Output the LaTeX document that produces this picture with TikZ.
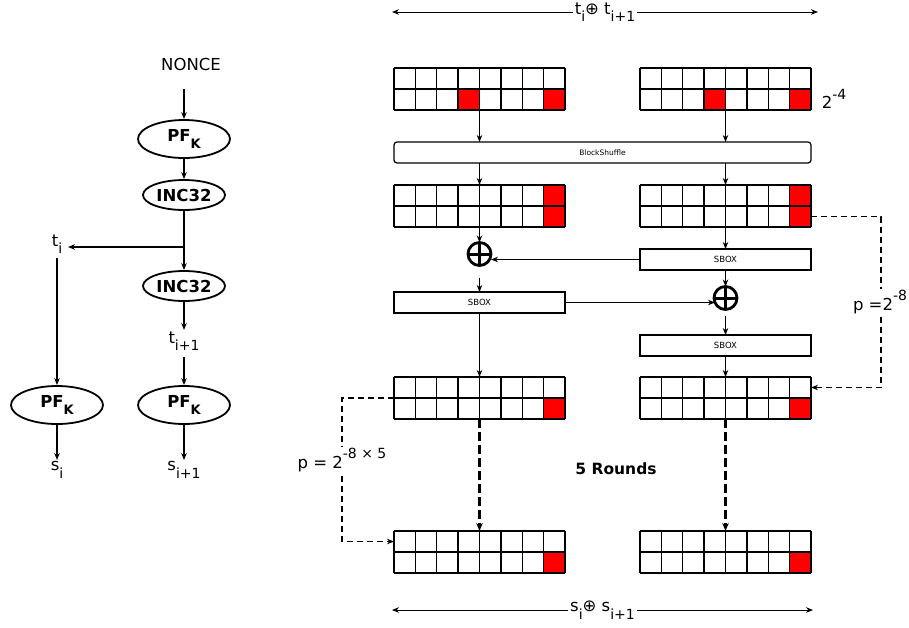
\documentclass[tikz,border=0pt]{standalone}
\usepackage{fontspec}
\setmainfont{DejaVu Sans}
\usetikzlibrary{arrows.meta,shapes.geometric,calc}
\newcommand\sbs[1]{\raisebox{-0.45em}{\fontsize{14}{14}\selectfont #1}}
\newcommand\sps[1]{\raisebox{0.55em}{\fontsize{14}{14}\selectfont #1}}
\newcommand\ksub[1]{\raisebox{-0.4em}{\fontsize{13}{13}\selectfont #1}}
\newcommand\mygrid[4]{%
  \node[gridbox] (#1) at (#2+85.5,#3+21) {};
  \foreach \c/\r in {#4} {\fill[red] (#2+\c*21.375-21.375,#3+\r*21-21) rectangle ++(21.375,21);}
  \foreach \i in {0,...,8} {\draw[gline] (#2+\i*21.375,#3) -- ++(0,42);}
  \foreach \j in {0,1,2} {\draw[gline] (#2,#3+\j*21) -- ++(171,0);}
}
\begin{document}
\begin{tikzpicture}[x=1pt,y=-1pt,
  arr/.style={-{Stealth[length=7pt,width=5.5pt]}, line width=0.9pt},
  larr/.style={-{Stealth[length=7pt,width=5.5pt]}, line width=1.2pt},
  darr/.style={{Stealth[length=7pt,width=5.5pt]}-{Stealth[length=7pt,width=5.5pt]}, line width=0.9pt},
  dsh/.style={-{Stealth[length=7pt,width=5.5pt]}, line width=1.2pt, dash pattern=on 6pt off 4pt},
  tdsh/.style={-{Stealth[length=8pt,width=6.5pt]}, line width=2.3pt, dash pattern=on 9pt off 4pt},
  gridbox/.style={minimum width=171pt, minimum height=42pt, inner sep=0pt, outer sep=0pt},
  gline/.style={line width=1.3pt},
  box/.style={draw, line width=1.2pt, minimum width=171pt, minimum height=21pt, inner sep=0pt, outer sep=0pt, font=\fontsize{8.5}{9}\selectfont},
  xorc/.style={circle, draw, line width=2.8pt, minimum size=23pt, inner sep=0pt, outer sep=0pt,
    path picture={\draw[line width=3pt] (path picture bounding box.north) -- (path picture bounding box.south)
      (path picture bounding box.west) -- (path picture bounding box.east);}},
  ell/.style={ellipse, draw, line width=1.8pt, inner sep=0pt, font=\fontsize{16.5}{18}\selectfont\bfseries},
  lbl/.style={inner sep=1pt, font=\fontsize{16.5}{18}\selectfont},
]
\useasboundingbox (0,0) rectangle (909,627);

% ---------- left part ----------
\node[lbl] (nonce) at (191,64) {NONCE};
\node[ell, minimum width=92pt, minimum height=38pt] (pf1) at (184,139) {PF\ksub{K}};
\node[ell, minimum width=82pt, minimum height=30pt] (inc1) at (184,195) {INC32};
\node[ell, minimum width=82pt, minimum height=30pt] (inc2) at (184,286) {INC32};
\node[lbl] (ti) at (57,244) {t\sbs{i}};
\node[lbl] (ti1) at (184,341) {t\sbs{i+1}};
\node[ell, minimum width=92pt, minimum height=38pt] (pfl) at (57,405) {PF\ksub{K}};
\node[ell, minimum width=92pt, minimum height=38pt] (pfr) at (184,405) {PF\ksub{K}};
\node[lbl] (si) at (57,470) {s\sbs{i}};
\node[lbl] (si1) at (184,470) {s\sbs{i+1}};
\coordinate (br) at (184,247);

\draw[larr] (pf1.north |- 0,89) -- (pf1.north);
\draw[larr] (pf1.south) -- (inc1.north);
\draw[larr] (inc1.south) -- (inc2.north);
\draw[larr] (br) -- (68,247);
\draw[larr] (57,258) -- (pfl.north);
\draw[larr] (inc2.south) -- (184,330);
\draw[larr] (184,357) -- (pfr.north);
\draw[larr] (pfl.south) -- (57,460);
\draw[larr] (pfr.south) -- (184,460);

% ---------- right part ----------
\mygrid{gAL}{394}{68}{4/2,8/2}
\mygrid{gAR}{640}{68}{4/2,8/2}
\mygrid{gBL}{394}{185}{8/1,8/2}
\mygrid{gBR}{640}{185}{8/1,8/2}
\mygrid{gCL}{394}{377}{8/2}
\mygrid{gCR}{640}{377}{8/2}
\mygrid{gDL}{394}{531}{8/2}
\mygrid{gDR}{640}{531}{8/2}

\node[draw, line width=1.2pt, rounded corners=3pt, minimum width=417pt, minimum height=21pt, inner sep=0pt, outer sep=0pt, font=\fontsize{7.5}{8}\selectfont] (bs) at (602.5,152.5) {BlockShuffle};
\node[box] (sb1) at (725.5,259.5) {SBOX};
\node[box] (sb2) at (479.5,302.5) {SBOX};
\node[box] (sb3) at (725.5,345.5) {SBOX};
\node[xorc] (x1) at (479.5,254) {};
\node[xorc] (x2) at (725.5,298) {};

\draw[arr] (gAL.south) -- (gAL.south |- bs.north);
\draw[arr] (gAR.south) -- (gAR.south |- bs.north);
\draw[arr] (bs.south -| gBL.north) -- (gBL.north);
\draw[arr] (bs.south -| gBR.north) -- (gBR.north);
\draw[arr] (gBL.south) -- (x1.north);
\draw[arr] (gBR.south) -- (sb1.north);
\draw[arr] (sb1.west) -- (sb1.west -| x1.east);
\draw[arr] ([yshift=-12pt]x1.south) -- (sb2.north);
\draw[arr] (sb1.south) -- (x2.north);
\draw[arr] (sb2.east) -- ([xshift=1pt]sb2.east -| x2.west);
\draw[arr] ([yshift=-6pt]x2.south) -- (sb3.north);
\draw[arr] (sb2.south) -- (gCL.north);
\draw[arr] (sb3.south) -- (gCR.north);
\draw[tdsh] (gCL.south) -- (gDL.north);
\draw[tdsh] (gCR.south) -- (gDR.north);

\draw[dsh] ($(gBR.south east)+(0,-10.5)$) -- (881,216.5) |- ($(gCR.north east)+(0,10.5)$);
\draw[dsh] (gCL.west) -- (342,398) |- ($(gDL.north west)+(0,10.5)$);
\node[lbl, fill=white, inner sep=2pt] (pr) at (880,302) {p =2\sps{-8}};
\node[lbl, fill=white, inner sep=2pt] (pl) at (342,460) {p = 2\sps{-8 × 5}};

\node[lbl] (two) at (834,99) {2\sps{-4}};
\node[font=\fontsize{15.5}{17}\selectfont\bfseries] (rounds) at (616,469) {5 Rounds};

\coordinate (tl) at (392,12);
\coordinate (tr) at (818,12);
\coordinate (bl) at (392,610);
\coordinate (brr) at (813,610);
\draw[darr] (tl) -- node[lbl, fill=white, inner sep=2pt, pos=0.5] (tlab) {t\sbs{i}⊕ t\sbs{i+1}} (tr);
\draw[darr] (bl) -- node[lbl, fill=white, inner sep=2pt, pos=0.5] (blab) {s\sbs{i}⊕ s\sbs{i+1}} (brr);
\end{tikzpicture}
\end{document}
